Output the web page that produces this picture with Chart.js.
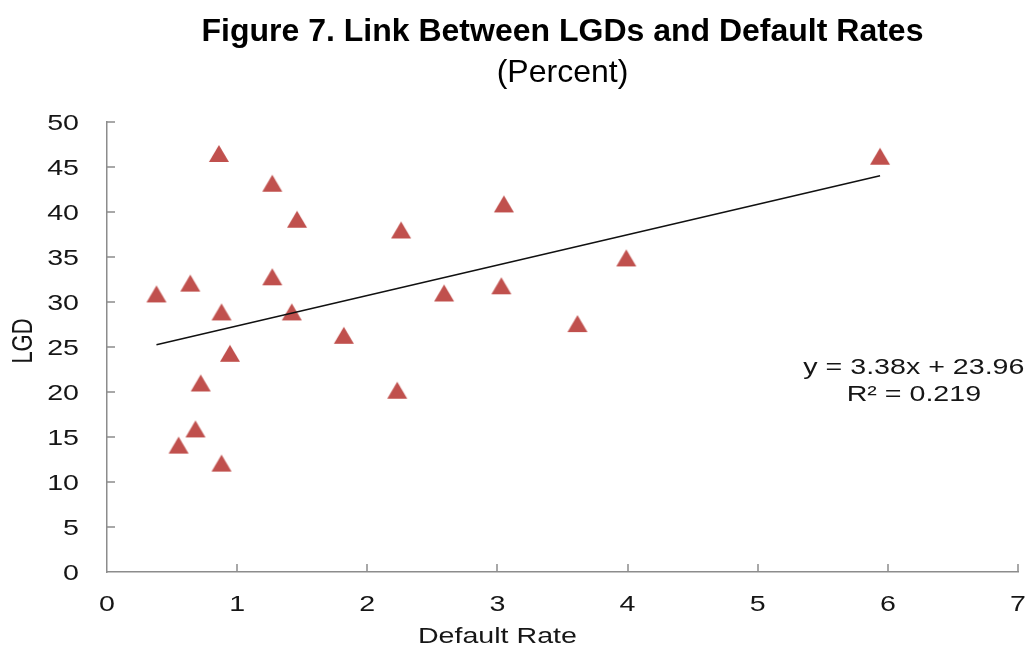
<!DOCTYPE html>
<html>
<head>
<meta charset="utf-8">
<script src="https://cdn.jsdelivr.net/npm/chart.js@4.4.1/dist/chart.umd.min.js"></script>
<style>
  html, body { margin: 0; padding: 0; background: #ffffff; }
  canvas { display: block; }
</style>
</head>
<body>
<canvas id="chart" width="1031" height="649"></canvas>
<script>
// Default rate (x) and loss given default (y) for each observation, in percent
const defaultRate = [0.38, 0.64, 0.86, 0.88, 0.945, 0.72, 0.68, 0.55, 0.88, 1.27, 1.46,
                     1.27, 1.42, 1.82, 2.26, 2.23, 2.59, 3.05, 3.03, 3.615, 3.99, 5.94];
const lgd = [30.9, 32.1, 46.5, 28.9, 24.3, 21.0, 15.9, 14.1, 12.1, 43.2, 39.2,
             32.8, 28.9, 26.3, 38.0, 20.2, 31.0, 40.9, 31.8, 27.6, 34.9, 46.2];

// Linear trend fitted to the observations
const trendSlope = 3.38;
const trendIntercept = 23.96;
const rSquared = 0.219;

// Axis tick values
const xTickValues = [0, 1, 2, 3, 4, 5, 6, 7];
const yTickValues = [0, 5, 10, 15, 20, 25, 30, 35, 40, 45, 50];

const FONT = '"Liberation Sans", Arial, Helvetica, sans-serif';
const TEXT_COLOR = '#161616';
const AXIS_COLOR = '#8c8c8c';
const MARKER_COLOR = '#C0504D';
const TEXT_STRETCH = 1.3;   // horizontal widening of axis and annotation text

// Triangle marker, centred on its bounding box
function makeTriangle(w, h, color) {
  const c = document.createElement('canvas');
  c.width = w + 2;
  c.height = h + 2;
  const g = c.getContext('2d');
  g.fillStyle = color;
  g.beginPath();
  g.moveTo(1 + w / 2, 1);
  g.lineTo(1 + w, 1 + h);
  g.lineTo(1, 1 + h);
  g.closePath();
  g.fill();
  return c;
}
const triangle = makeTriangle(20, 17, MARKER_COLOR);

const points = defaultRate.map((x, i) => ({ x: x, y: lgd[i] }));
const xMin = Math.min(...defaultRate);
const xMax = Math.max(...defaultRate);
const trendPoints = [
  { x: xMin, y: trendSlope * xMin + trendIntercept },
  { x: xMax, y: trendSlope * xMax + trendIntercept }
];

// Draw a string with horizontal stretch around its anchor
function drawStretched(ctx, text, x, y, opts) {
  ctx.save();
  ctx.font = opts.font;
  ctx.fillStyle = opts.color || TEXT_COLOR;
  ctx.textAlign = opts.align || 'center';
  ctx.textBaseline = 'middle';
  ctx.translate(x, y);
  ctx.scale(opts.stretch || 1, 1);
  if (opts.rotation) ctx.rotate(opts.rotation);
  ctx.fillText(text, 0, 0);
  ctx.restore();
}

// Widen the tick labels the scales draw (value labels sit slightly below their tick)
const stretchLabels = {
  id: 'stretchLabels',
  afterUpdate(chart) {
    Object.values(chart.scales).forEach(scale => {
      if (scale._stretched) return;
      scale._stretched = true;
      const dy = scale.axis === 'y' ? 2 : 0;
      const original = scale.drawLabels;
      scale.drawLabels = function (area) {
        const ctx = this.ctx;
        const fill = ctx.fillText;
        ctx.fillText = function (t, x, y) {
          this.save();
          this.translate(x, y + dy);
          this.scale(TEXT_STRETCH, 1);
          fill.call(this, t, 0, 0);
          this.restore();
        };
        try { original.call(this, area); } finally { delete ctx.fillText; }
      };
    });
  }
};

// Tick marks pointing into the plot area
const innerTicks = {
  id: 'innerTicks',
  afterDraw(chart) {
    const { ctx, chartArea, scales } = chart;
    const len = 8;
    ctx.save();
    ctx.strokeStyle = AXIS_COLOR;
    ctx.lineWidth = 1.5;
    ctx.beginPath();
    scales.x.ticks.forEach(t => {
      const px = Math.round(scales.x.getPixelForValue(t.value));
      if (t.value === 0) return;
      ctx.moveTo(px, chartArea.bottom);
      ctx.lineTo(px, chartArea.bottom - len);
    });
    scales.y.ticks.forEach(t => {
      const py = Math.round(scales.y.getPixelForValue(t.value));
      if (t.value === 0) return;
      ctx.moveTo(chartArea.left, py);
      ctx.lineTo(chartArea.left + len, py);
    });
    ctx.stroke();
    ctx.restore();
  }
};

// Axis titles and trend equation
const annotations = {
  id: 'annotations',
  afterDraw(chart) {
    const { ctx, chartArea, scales } = chart;
    const f = '22px ' + FONT;
    drawStretched(ctx, 'Default Rate', scales.x.getPixelForValue(3), chartArea.bottom + 65,
      { font: f, stretch: TEXT_STRETCH });
    drawStretched(ctx, 'LGD', 24, (chartArea.top + chartArea.bottom) / 2 - 6,
      { font: f, stretch: TEXT_STRETCH, rotation: -Math.PI / 2 });
    const ex = scales.x.getPixelForValue(6.2);
    drawStretched(ctx, 'y = ' + trendSlope.toFixed(2) + 'x + ' + trendIntercept.toFixed(2),
      ex, scales.y.getPixelForValue(22.7), { font: f, stretch: TEXT_STRETCH });
    drawStretched(ctx, 'R\u00B2 = ' + rSquared.toFixed(3),
      ex, scales.y.getPixelForValue(19.7), { font: f, stretch: TEXT_STRETCH });
  }
};

new Chart(document.getElementById('chart'), {
  type: 'scatter',
  data: {
    datasets: [
      {
        label: 'Trend',
        data: trendPoints,
        showLine: true,
        borderColor: '#111111',
        borderWidth: 1.5,
        pointRadius: 0,
        order: 0
      },
      {
        label: 'LGD',
        data: points,
        pointStyle: triangle,
        pointRadius: 10,
        pointHoverRadius: 10,
        order: 1
      }
    ]
  },
  options: {
    responsive: false,
    animation: false,
    events: [],
    layout: { padding: { left: 0, right: 0, top: 0, bottom: 0 } },
    plugins: {
      legend: { display: false },
      tooltip: { enabled: false },
      title: {
        display: true,
        fullSize: false,
        text: 'Figure 7. Link Between LGDs and Default Rates',
        color: '#000000',
        font: { family: FONT, size: 32, weight: 'bold', lineHeight: 1.2 },
        padding: { top: 13, bottom: 0 }
      },
      subtitle: {
        display: true,
        fullSize: false,
        text: '(Percent)',
        color: '#000000',
        font: { family: FONT, size: 32, weight: 'normal', lineHeight: 1.2 },
        padding: { top: 2.5, bottom: 29.7 }
      }
    },
    scales: {
      x: {
        type: 'linear',
        min: 0,
        max: 7,
        afterBuildTicks: s => { s.ticks = xTickValues.map(v => ({ value: v })); },
        afterFit: s => { s.height = 77; s.paddingRight = 13; },
        ticks: {
          color: TEXT_COLOR,
          font: { family: FONT, size: 22, lineHeight: 1.2 },
          padding: 20,
          maxRotation: 0,
          autoSkip: false
        },
        grid: { display: false, drawTicks: false },
        border: { display: true, color: AXIS_COLOR, width: 1.5 }
      },
      y: {
        type: 'linear',
        min: 0,
        max: 50,
        afterBuildTicks: s => { s.ticks = yTickValues.map(v => ({ value: v })); },
        afterFit: s => { s.width = 107; },
        ticks: {
          color: TEXT_COLOR,
          font: { family: FONT, size: 22, lineHeight: 1.2 },
          padding: 28,
          autoSkip: false
        },
        grid: { display: false, drawTicks: false },
        border: { display: true, color: AXIS_COLOR, width: 1.5 }
      }
    }
  },
  plugins: [stretchLabels, innerTicks, annotations]
});
</script>
</body>
</html>
